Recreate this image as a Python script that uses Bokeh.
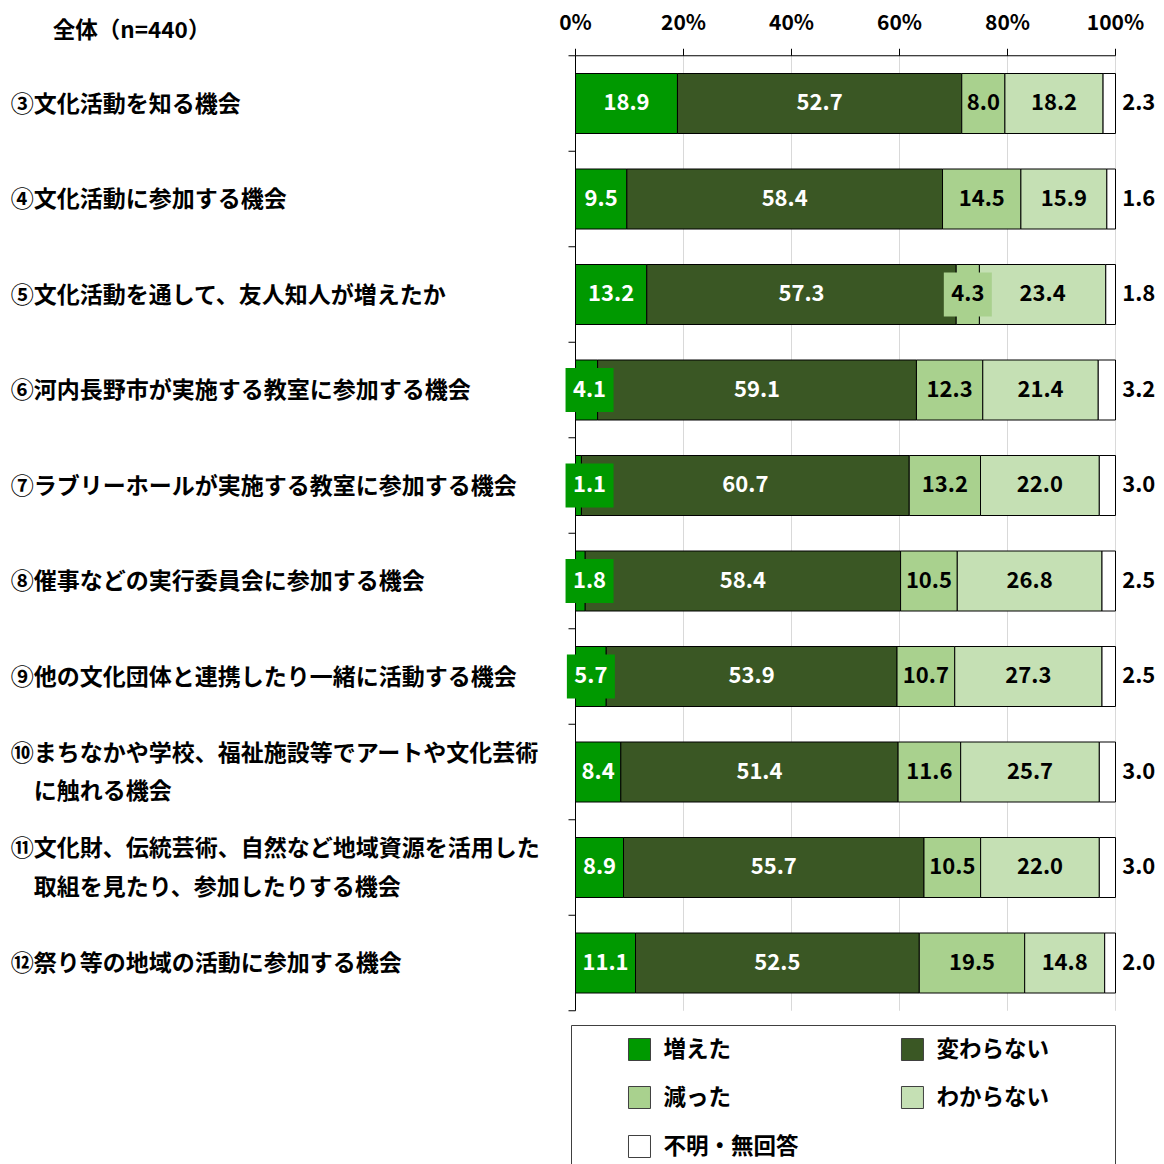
import numpy as np
from bokeh.plotting import figure
from bokeh.models import Range1d
from bokeh.embed import file_html
from bokeh.resources import INLINE
from bokeh.core.properties import value

# ---------------- data ----------------
title_text = "全体（n=440）"
categories = [
    "③文化活動を知る機会",
    "④文化活動に参加する機会",
    "⑤文化活動を通して、友人知人が増えたか",
    "⑥河内長野市が実施する教室に参加する機会",
    "⑦ラブリーホールが実施する教室に参加する機会",
    "⑧催事などの実行委員会に参加する機会",
    "⑨他の文化団体と連携したり一緒に活動する機会",
    "⑩まちなかや学校、福祉施設等でアートや文化芸術\n　に触れる機会",
    "⑪文化財、伝統芸術、自然など地域資源を活用した\n　取組を見たり、参加したりする機会",
    "⑫祭り等の地域の活動に参加する機会",
]
series_names = ["増えた", "変わらない", "減った", "わからない", "不明・無回答"]
increased = [18.9, 9.5, 13.2, 4.1, 1.1, 1.8, 5.7, 8.4, 8.9, 11.1]
unchanged = [52.7, 58.4, 57.3, 59.1, 60.7, 58.4, 53.9, 51.4, 55.7, 52.5]
decreased = [8.0, 14.5, 4.3, 12.3, 13.2, 10.5, 10.7, 11.6, 10.5, 19.5]
unknown = [18.2, 15.9, 23.4, 21.4, 22.0, 26.8, 27.3, 25.7, 22.0, 14.8]
no_answer = [2.3, 1.6, 1.8, 3.2, 3.0, 2.5, 2.5, 3.0, 3.0, 2.0]
tick_values = [0, 20, 40, 60, 80, 100]
tick_labels = ["0%", "20%", "40%", "60%", "80%", "100%"]

colors = ["#009900", "#3A5724", "#A9D18E", "#C5E0B4", "#FFFFFF"]
label_colors = ["#FFFFFF", "#FFFFFF", "#000000", "#000000", "#000000"]

FONT = value("Noto Sans CJK JP")

# ---------------- layout ----------------
W = H = 1164
PX_PER_PCT = 5.4
X0 = 575.0           # canvas x of 0%
BAND = 95.5
Y0 = 103.0           # canvas y of first bar centre
TY = -2.0 / BAND     # small upward nudge for text
x_range = Range1d(-X0 / PX_PER_PCT, (W - X0) / PX_PER_PCT)
y_range = Range1d(start=(H - Y0) / BAND, end=-Y0 / BAND)

p = figure(width=W, height=H, x_range=x_range, y_range=y_range,
           x_axis_type=None, y_axis_type=None, toolbar_location=None,
           output_backend="svg", min_border=0)
p.outline_line_color = None
p.background_fill_color = "white"
p.border_fill_color = "white"
p.xgrid.visible = False
p.ygrid.visible = False

n = len(categories)
ys = np.arange(n)
data = np.array([increased, unchanged, decreased, unknown, no_answer], dtype=float)
totals = data.sum(axis=0)
shares = data / totals * 100.0
rights = np.cumsum(shares, axis=0)
lefts = rights - shares

top_edge = -0.5
bottom_edge = n - 0.5

# grid lines
p.segment(x0=tick_values[1:], x1=tick_values[1:], y0=top_edge, y1=bottom_edge,
          line_color="#D9D9D9", line_width=1)

# bars
BAR_H = 60 / BAND
for k in range(5):
    p.hbar(y=ys, left=lefts[k], right=rights[k], height=BAR_H,
           fill_color=colors[k], line_color="#000000", line_width=1)

# axes lines and ticks
tick_len_y = 7 / BAND
tick_len_x = 7 / PX_PER_PCT
p.segment(x0=[0], x1=[100], y0=[top_edge], y1=[top_edge], line_color="#000000", line_width=1)
p.segment(x0=tick_values, x1=tick_values, y0=top_edge, y1=top_edge - tick_len_y,
          line_color="#000000", line_width=1)
p.segment(x0=[0], x1=[0], y0=[top_edge], y1=[bottom_edge], line_color="#000000", line_width=1)
bounds = np.arange(n + 1) - 0.5
p.segment(x0=-tick_len_x, x1=0, y0=bounds, y1=bounds, line_color="#000000", line_width=1)

# tick labels
p.text(x=tick_values, y=top_edge - 33 / BAND + TY, text=tick_labels, text_align="center",
       text_baseline="middle", text_font=FONT, text_font_style="bold",
       text_font_size="21px", text_color="#000000")

# title
p.text(x=[-82.2], y=[-76 / BAND], text=[title_text], text_align="center",
       text_baseline="middle", text_font=FONT, text_font_style="bold",
       text_font_size="22.5px", text_color="#000000")

# category labels
p.text(x=-104.6, y=ys + TY, text=categories, text_align="left", text_baseline="middle",
       text_font=FONT, text_font_style="bold", text_font_size="23px",
       text_color="#000000", text_line_height=1.13)

# data labels inside bars
for k in range(4):
    centers = (lefts[k] + rights[k]) / 2
    if k == 0:
        centers = np.maximum(centers, 2.6)
    vals = data[k]
    small = vals < 7
    if small.any():
        p.rect(x=centers[small], y=ys[small], width=48, height=44,
               width_units="screen", height_units="screen",
               fill_color=colors[k], line_color=None)
    p.text(x=centers, y=ys + TY, text=[f"{v:.1f}" for v in vals], text_align="center",
           text_baseline="middle", text_font=FONT, text_font_style="bold",
           text_font_size="22px", text_color=label_colors[k])

# outside labels for no answer
p.text(x=100 + 4.3, y=ys + TY, text=[f"{v:.1f}" for v in data[4]], text_align="center",
       text_baseline="middle", text_font=FONT, text_font_style="bold",
       text_font_size="22px", text_color="#000000")

# legend
leg_top = (1025 - Y0) / BAND
p.quad(left=[-4 / PX_PER_PCT], right=[100], top=[leg_top], bottom=[(H + 20 - Y0) / BAND],
       fill_color=None, line_color="#404040", line_width=1)
leg_x = [11.85, 62.4, 11.85, 62.4, 11.85]
leg_y = [(r - Y0) / BAND for r in [1049, 1049, 1097, 1097, 1146]]
p.rect(x=leg_x, y=leg_y, width=22, height=22, width_units="screen", height_units="screen",
       fill_color=colors, line_color="#404040", line_width=1)
p.text(x=[x + 4.45 for x in leg_x], y=[v - 3 / BAND for v in leg_y], text=series_names,
       text_align="left", text_baseline="middle", text_font=FONT, text_font_style="bold",
       text_font_size="22.5px", text_color="#000000")

open("out.html", "w").write(file_html(p, INLINE))
